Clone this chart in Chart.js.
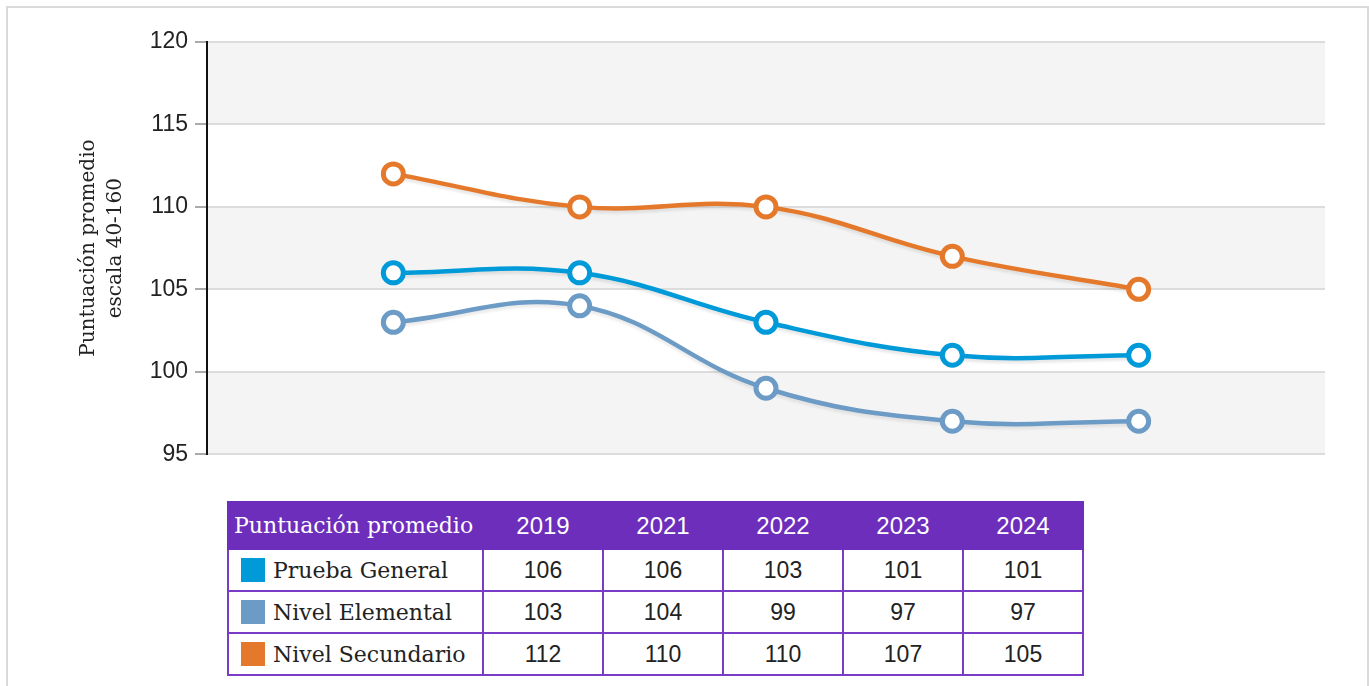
<!DOCTYPE html>
<html>
<head>
<meta charset="utf-8">
<script src="https://cdn.jsdelivr.net/npm/chart.js@4"></script>
<style>
  body { margin: 0; background: #fff; }
  #frame { position: absolute; left: 6px; top: 6px; width: 1359px; height: 700px; border: 2px solid #dadada; }
  #wrap { position: absolute; left: 0; top: 0; width: 1369px; height: 470px; }
  table { position: absolute; left: 227px; top: 501px; width: 853px; border-collapse: collapse; table-layout: fixed; }
  th { background: #6d2ebc; color: #fff; height: 45px; font: 24px "Liberation Sans", Arial, sans-serif; font-weight: normal; border: 2px solid #6d2ebc; padding: 0; }
  th.first { font-family: "DejaVu Serif", serif; font-size: 22px; text-align: left; padding-left: 5px; }
  td { height: 40px; border: 2px solid #7a3cc6; text-align: center; font: 23px "Liberation Sans", Arial, sans-serif; color: #222; padding: 0; }
  td.first { text-align: left; font-family: "DejaVu Serif", serif; font-size: 22px; padding-left: 12px; }
  .sw { display: inline-block; width: 24px; height: 24px; vertical-align: -4px; margin-right: 8px; }
</style>
</head>
<body>
<div id="frame"></div>
<div id="wrap"><canvas id="line-chart"></canvas></div>
<table id="tbl"></table>
<script>
var years = ['2019', '2021', '2022', '2023', '2024'];
var seriesNames = ['Prueba General', 'Nivel Elemental', 'Nivel Secundario'];
var pruebaGeneral = [106, 106, 103, 101, 101];
var nivelElemental = [103, 104, 99, 97, 97];
var nivelSecundario = [112, 110, 110, 107, 105];
var colors = ['#009ad9', '#6c9bc6', '#e5792b'];
var yTicks = [95, 100, 105, 110, 115, 120];

var allSeries = [pruebaGeneral, nivelElemental, nivelSecundario];

function toPoints(values) {
  return values.map(function(v, i) { return { x: i + 1, y: v }; });
}

// grey bands between gridlines
var bands = {
  id: 'bands',
  beforeDraw: function(chart) {
    var ctx = chart.ctx, area = chart.chartArea, y = chart.scales.y;
    ctx.save();
    ctx.fillStyle = '#f4f4f4';
    for (var i = 0; i < yTicks.length - 1; i += 2) {
      var top = y.getPixelForValue(yTicks[i + 1]);
      var bot = y.getPixelForValue(yTicks[i]);
      ctx.fillRect(area.left, top, area.right - area.left, bot - top);
    }
    ctx.restore();
  }
};

// soft shadow under the lines
var lineShadow = {
  id: 'lineShadow',
  beforeDatasetsDraw: function(chart) {
    var ctx = chart.ctx;
    chart.data.datasets.forEach(function(ds, i) {
      var meta = chart.getDatasetMeta(i);
      ctx.save();
      ctx.translate(0, 3);
      ctx.filter = 'grayscale(1) opacity(0.18) blur(1px)';
      meta.dataset.draw(ctx, chart.chartArea);
      ctx.restore();
    });
  }
};

var datasets = allSeries.map(function(vals, i) {
  return {
    label: seriesNames[i],
    data: toPoints(vals),
    borderColor: colors[i],
    backgroundColor: '#fff',
    pointBackgroundColor: '#fff',
    pointBorderColor: colors[i],
    pointRadius: 10,
    pointBorderWidth: 5,
    borderWidth: 4.5,
    tension: 0.4,
    fill: false
  };
});

new Chart(document.getElementById('line-chart'), {
  type: 'line',
  data: { datasets: datasets },
  plugins: [bands, lineShadow],
  options: {
    responsive: true,
    maintainAspectRatio: false,
    animation: false,
    events: [],
    layout: { padding: { left: 74, right: 44, top: 42, bottom: 16 } },
    plugins: { legend: { display: false }, tooltip: { enabled: false } },
    scales: {
      x: { type: 'linear', min: 0, max: 6, display: false },
      y: {
        min: 95, max: 120,
        afterFit: function(scale) { scale.width = 133; },
        afterBuildTicks: function(scale) { scale.ticks = yTicks.map(function(v) { return { value: v }; }); },
        ticks: { padding: 7, color: '#222', font: { family: '"Liberation Sans", Arial, sans-serif', size: 23 } },
        grid: { color: '#dcdcdc', lineWidth: 2, tickLength: 12, tickColor: '#aaa' },
        border: { display: true, color: '#111', width: 2 },
        title: {
          display: true,
          text: ['Puntuación promedio', 'escala 40-160'],
          color: '#222',
          padding: { top: 1, bottom: 0 },
          font: { family: '"DejaVu Serif", serif', size: 20, lineHeight: '27px' }
        }
      }
    }
  }
});

// the canvas height sets the plot bottom (95 sits at y=454)
document.getElementById('wrap').style.height = '475px';

// data table, doubles as legend
var tbl = document.getElementById('tbl');
var html = '<colgroup><col style="width:255px">' + years.map(function() { return '<col style="width:120px">'; }).join('') + '</colgroup>';
html += '<tr><th class="first">Puntuación promedio</th>' + years.map(function(y) { return '<th>' + y + '</th>'; }).join('') + '</tr>';
allSeries.forEach(function(vals, i) {
  html += '<tr><td class="first"><span class="sw" style="background:' + colors[i] + '"></span>' + seriesNames[i] + '</td>' +
    vals.map(function(v) { return '<td>' + v + '</td>'; }).join('') + '</tr>';
});
tbl.innerHTML = html;
</script>
</body>
</html>
